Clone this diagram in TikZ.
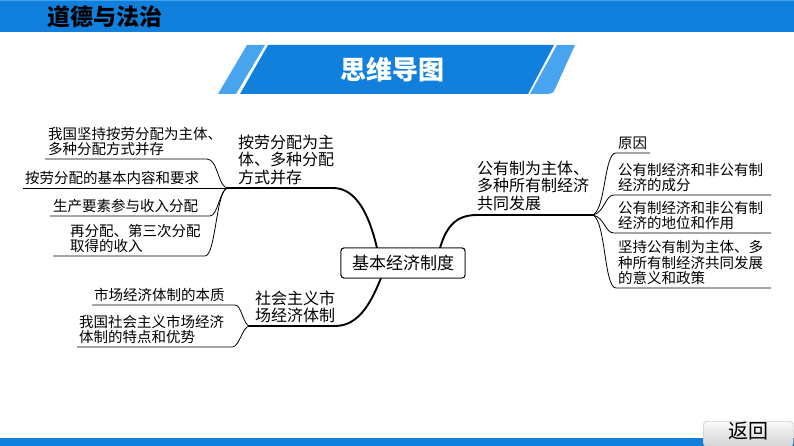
\documentclass[tikz,border=0pt]{standalone}
\usepackage{fontspec}
\setmainfont{Noto Sans CJK SC}
\definecolor{barblue}{RGB}{16,128,220}
\definecolor{lightblue}{RGB}{72,164,238}
\definecolor{topline}{RGB}{70,160,235}
\begin{document}
\begin{tikzpicture}[x=1pt,y=-1pt,
  subline/.style={draw=black, line width=0.8pt},
  mainline/.style={draw=black, line width=1.9pt, line cap=round},
  subtxt/.style={anchor=south west, inner sep=0pt, align=left, font=\fontsize{14.5}{15.5}\selectfont},
  maintxt/.style={anchor=south west, inner sep=0pt, align=left, font=\fontsize{16}{17.5}\selectfont}]
\useasboundingbox (0,0) rectangle (794,446);
\fill[white] (0,0) rectangle (794,446);
% top bar
\fill[barblue] (0,0) rectangle (794,32);
\fill[topline] (0,0) rectangle (794,1.5);
\node[anchor=west, inner sep=0pt, font=\fontsize{23}{23}\selectfont\bfseries] (subj) at (47,17) {道德与法治};
% title banner
\fill[lightblue] (247,45) -- (265,45) -- (236,94) -- (218,94) -- cycle;
\fill[barblue] (268,45) -- (554,45) -- (528,94) -- (240,94) -- cycle;
\fill[lightblue] (557,45) -- (575,45) -- (555,89) .. controls (553,93) .. (548,94) -- (530,94) -- cycle;
\node[text=white, inner sep=0pt, font=\fontsize{26}{26}\selectfont\bfseries] (title) at (392,70) {思维导图};
% bottom bar
\fill[barblue] (0,438) rectangle (794,446);
\node[draw=gray!60, rounded corners=4pt, top color=gray!5, bottom color=gray!35, minimum width=90pt, minimum height=26pt, inner sep=0pt, anchor=north west] (back) at (703,421) {};
\node[inner sep=0pt, font=\fontsize{20}{20}\selectfont] (backtxt) at (748,431) {返回};

% junctions
\coordinate (J1) at (228,188);
\coordinate (J2) at (593,215);
\coordinate (J3) at (250,326);

% center node
\node[draw=black, line width=0.9pt, rounded corners=3pt, fill=white, minimum width=124pt, minimum height=30pt, inner sep=0pt, font=\fontsize{17}{17}\selectfont] (root) at (403,263) {};
\coordinate (rootTL) at (377,248);
\coordinate (rootTR) at (440,248);
\coordinate (rootBL) at (381,278);

% main branches
\coordinate (m1) at (333,188);
\draw[mainline] (J1) -- (m1) .. controls (356,188) and (369,214) .. (rootTL);
\coordinate (m2) at (477,215);
\draw[mainline] (rootTR) .. controls (447,224) and (458,215) .. (m2) -- (J2);
\coordinate (m3) at (335,326);
\draw[mainline] (J3) -- (m3) .. controls (360,326) and (372,300) .. (rootBL);

% redraw center box on top
\node[draw=black, line width=0.9pt, rounded corners=3pt, fill=white, minimum width=124pt, minimum height=30pt, inner sep=0pt, font=\fontsize{17}{17}\selectfont] (rootbox) at (403,263) {基本经济制度};

% main texts
\node[maintxt] (b1) at (238,185) {按劳分配为主\\体、多种分配\\方式并存};
\node[maintxt] (b2) at (477,211) {公有制为主体、\\多种所有制经济\\共同发展};
\node[maintxt] (b3) at (255,323) {社会主义市\\场经济体制};

% left sub-branches
\coordinate (l1a) at (45,159); \coordinate (l1b) at (207,159);
\draw[subline] (l1a) -- (l1b) .. controls (218,159) and (218,188) .. (J1);
\node[subtxt] (l1) at (48,156) {我国坚持按劳分配为主体、\\多种分配方式并存};
\coordinate (l2a) at (23,188);
\draw[subline] (l2a) -- (J1);
\node[subtxt] (l2) at (25,185) {按劳分配的基本内容和要求};
\coordinate (l3a) at (50,216); \coordinate (l3b) at (210,216);
\draw[subline] (l3a) -- (l3b) .. controls (218,216) and (220,188) .. (J1);
\node[subtxt] (l3) at (53,213) {生产要素参与收入分配};
\coordinate (l4a) at (53,256); \coordinate (l4b) at (205,256);
\draw[subline] (l4a) -- (l4b) .. controls (216,256) and (216,188) .. (J1);
\node[subtxt] (l4) at (70,253) {再分配、第三次分配\\取得的收入};

% bottom-left sub-branches
\coordinate (s1a) at (92,305); \coordinate (s1b) at (235,305);
\draw[subline] (s1a) -- (s1b) .. controls (242,305) and (243,326) .. (J3);
\node[subtxt] (s1) at (94,302) {市场经济体制的本质};
\coordinate (s2a) at (77,347); \coordinate (s2b) at (232,347);
\draw[subline] (s2a) -- (s2b) .. controls (240,347) and (242,326) .. (J3);
\node[subtxt] (s2) at (79,344) {我国社会主义市场经济\\体制的特点和优势};

% right sub-branches
\coordinate (r1a) at (616,153); \coordinate (r1b) at (650,153);
\draw[subline] (J2) .. controls (606,208) and (604,153) .. (r1a) -- (r1b);
\node[subtxt] (r1) at (618,150) {原因};
\coordinate (r2a) at (614,195); \coordinate (r2b) at (771,195);
\draw[subline] (J2) .. controls (605,212) and (605,195) .. (r2a) -- (r2b);
\node[subtxt] (r2) at (618,192) {公有制经济和非公有制\\经济的成分};
\coordinate (r3a) at (614,233); \coordinate (r3b) at (771,233);
\draw[subline] (J2) .. controls (605,218) and (605,233) .. (r3a) -- (r3b);
\node[subtxt] (r3) at (618,230) {公有制经济和非公有制\\经济的地位和作用};
\coordinate (r4a) at (616,288); \coordinate (r4b) at (771,288);
\draw[subline] (J2) .. controls (606,222) and (604,288) .. (r4a) -- (r4b);
\node[subtxt] (r4) at (618,285) {坚持公有制为主体、多\\种所有制经济共同发展\\的意义和政策};
\end{tikzpicture}
\end{document}
